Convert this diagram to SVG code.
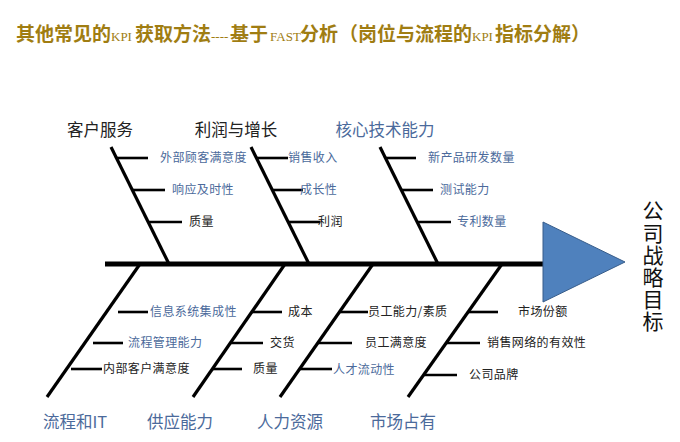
<svg xmlns="http://www.w3.org/2000/svg" width="680" height="442" viewBox="0 0 680 442">
<style>
.t{font-family:"Noto Sans CJK SC","Noto Sans",sans-serif;font-weight:bold;font-size:19px;fill:#A07D12}
.ts{font-family:"Liberation Serif",serif;font-size:13px;fill:#A07D12}
.cat{font-family:"Noto Sans CJK SC",sans-serif;font-size:16.5px;text-anchor:middle}
.sub{font-family:"Noto Sans CJK SC",sans-serif;font-size:12px;letter-spacing:0.4px}
.blue{fill:#4B6A9B}
.blk{fill:#222}
.bone{stroke:#000;stroke-width:3.2;fill:none;stroke-linecap:butt}
.br{stroke:#000;stroke-width:2.6;fill:none}
.spine{stroke:#000;stroke-width:5;fill:none}
.v{font-family:"Noto Sans CJK SC",sans-serif;font-size:21px;fill:#111;writing-mode:vertical-rl;letter-spacing:1.2px}
</style>
<g id="title">
<text y="41"><tspan class="t" x="16">其他常见的</tspan><tspan class="ts" x="111">KPI</tspan><tspan class="t" x="135">获取方法</tspan><tspan class="ts" x="211">----</tspan><tspan class="t" x="230">基于</tspan><tspan class="ts" x="270">FAST</tspan><tspan class="t" x="300">分析</tspan><tspan class="t" x="339">（岗位与流程的</tspan><tspan class="ts" x="472">KPI</tspan><tspan class="t" x="495">指标分解）</tspan></text>
</g>
<g id="connectors">
<line class="spine" x1="105" y1="264" x2="545" y2="264"/>
<line class="bone" x1="111" y1="147" x2="169" y2="264"/>
<line class="bone" x1="251" y1="147" x2="309" y2="264"/>
<line class="bone" x1="380" y1="147" x2="438" y2="264"/>
<line class="bone" x1="140" y1="264" x2="47" y2="397"/>
<line class="bone" x1="285" y1="264" x2="193" y2="397"/>
<line class="bone" x1="373" y1="264" x2="280" y2="397"/>
<line class="bone" x1="502" y1="264" x2="408" y2="397"/>
<line class="br" x1="117" y1="158" x2="148" y2="158"/>
<line class="br" x1="133" y1="190" x2="165" y2="190"/>
<line class="br" x1="149" y1="222" x2="182" y2="222"/>
<line class="br" x1="257" y1="158" x2="288" y2="158"/>
<line class="br" x1="273" y1="190" x2="303" y2="190"/>
<line class="br" x1="289" y1="222" x2="320" y2="222"/>
<line class="br" x1="386" y1="158" x2="416" y2="158"/>
<line class="br" x1="402" y1="190" x2="433" y2="190"/>
<line class="br" x1="418" y1="222" x2="451" y2="222"/>
<line class="br" x1="118" y1="312" x2="148" y2="312"/>
<line class="br" x1="93" y1="343" x2="123" y2="343"/>
<line class="br" x1="71" y1="369" x2="102" y2="369"/>
<line class="br" x1="252" y1="312" x2="282" y2="312"/>
<line class="br" x1="230" y1="343" x2="263" y2="343"/>
<line class="br" x1="212" y1="369" x2="242" y2="369"/>
<line class="br" x1="339" y1="312" x2="368" y2="312"/>
<line class="br" x1="318" y1="343" x2="352" y2="343"/>
<line class="br" x1="300" y1="369" x2="332" y2="369"/>
<line class="br" x1="468" y1="312" x2="498" y2="312"/>
<line class="br" x1="446" y1="343" x2="480" y2="343"/>
<line class="br" x1="424" y1="375" x2="457" y2="375"/>
</g>
<g id="head">
<polygon points="543,222 625,262 543,302" fill="#4F81BD" stroke="#385D8A" stroke-width="1"/>
<text class="v" x="653" y="200">公司战略目标</text>
</g>
<g id="cat-kehu"><text class="cat blk" x="100" y="136">客户服务</text>
<text class="sub blue" x="160" y="162">外部顾客满意度</text>
<text class="sub blue" x="172" y="194">响应及时性</text>
<text class="sub blk" x="189" y="226">质量</text></g>
<g id="cat-lirun"><text class="cat blk" x="236" y="136">利润与增长</text>
<text class="sub blue" x="288" y="162">销售收入</text>
<text class="sub blue" x="300" y="194">成长性</text>
<text class="sub blk" x="318" y="226">利润</text></g>
<g id="cat-hexin"><text class="cat blue" x="385" y="136">核心技术能力</text>
<text class="sub blue" x="428" y="162">新产品研发数量</text>
<text class="sub blue" x="440" y="194">测试能力</text>
<text class="sub blue" x="457" y="226">专利数量</text></g>
<g id="cat-liucheng"><text class="cat blue" x="75" y="428">流程和IT</text>
<text class="sub blue" x="150" y="316">信息系统集成性</text>
<text class="sub blue" x="128" y="347">流程管理能力</text>
<text class="sub blk" x="103" y="373">内部客户满意度</text></g>
<g id="cat-gongying"><text class="cat blue" x="180" y="428">供应能力</text>
<text class="sub blk" x="288" y="316">成本</text>
<text class="sub blk" x="270" y="347">交货</text>
<text class="sub blk" x="253" y="373">质量</text></g>
<g id="cat-renli"><text class="cat blue" x="290" y="428">人力资源</text>
<text class="sub blk" x="368" y="316">员工能力/素质</text>
<text class="sub blk" x="365" y="347">员工满意度</text>
<text class="sub blue" x="333" y="374">人才流动性</text></g>
<g id="cat-shichang"><text class="cat blue" x="403" y="428">市场占有</text>
<text class="sub blk" x="518" y="316">市场份额</text>
<text class="sub blk" x="487" y="347">销售网络的有效性</text>
<text class="sub blk" x="469" y="379">公司品牌</text></g>
</svg>
